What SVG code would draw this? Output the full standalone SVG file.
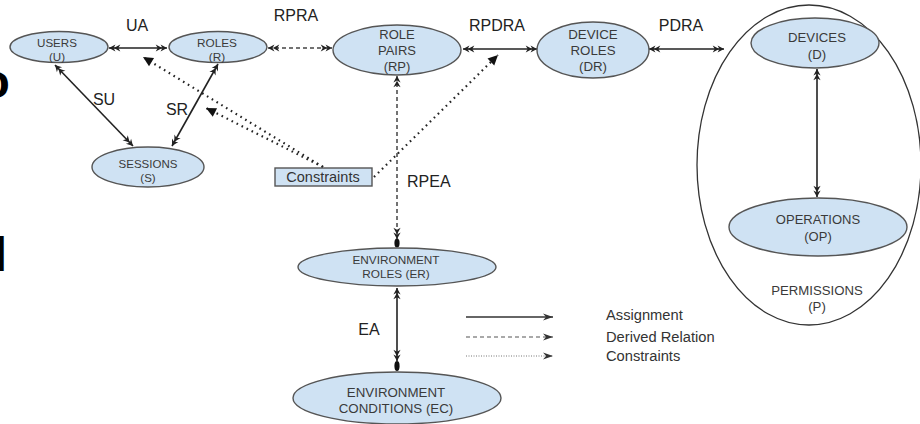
<svg xmlns="http://www.w3.org/2000/svg" width="920" height="424" viewBox="0 0 920 424">
<style>
text{font-family:"Liberation Sans",Arial,sans-serif;}
.node{fill:#cfe2f3;stroke:#555;stroke-width:1.4;}
.nt{fill:#3a3a3a;text-anchor:middle;}
.lbl{fill:#222;font-size:16px;}
.solid{stroke:#222;stroke-width:1.6;fill:none;}
.dash{stroke:#444;stroke-width:1.5;stroke-dasharray:4 3;fill:none;}
.dot{stroke:#222;stroke-width:2.2;stroke-dasharray:1.6 4;fill:none;}
.legt{fill:#333;font-size:14.7px;}
</style>
<defs>
<marker id="dbl" markerUnits="userSpaceOnUse" markerWidth="14" markerHeight="10" viewBox="-13 -5 14 10" refX="0" refY="0" orient="auto-start-reverse">
<path d="M0,0 L-6.5,-3.6 L-4.5,0 L-6.5,3.6 Z M-4.8,0 L-11.3,-3.6 L-9.3,0 L-11.3,3.6 Z" fill="#222"/>
</marker>
<marker id="tri" markerUnits="userSpaceOnUse" markerWidth="12" markerHeight="12" viewBox="-11 -6 12 12" refX="0" refY="0" orient="auto">
<path d="M0,0 L-10,-4.8 L-10,4.8 Z" fill="#111"/>
</marker>
<marker id="leg" markerUnits="userSpaceOnUse" markerWidth="12" markerHeight="10" viewBox="-11 -5 12 10" refX="0" refY="0" orient="auto">
<path d="M0,0 L-10,-3.5 L-7,0 L-10,3.5 Z" fill="#333"/>
</marker>
</defs>

<!-- cropped fragments at left edge -->
<text x="9.7" y="98" font-size="48" font-weight="bold" text-anchor="end" fill="#000">o</text>
<text x="7.2" y="271" font-size="48" font-weight="bold" text-anchor="end" fill="#000">l</text>

<g id="permissions">
<ellipse cx="809" cy="165" rx="112" ry="160" fill="#fff" stroke="#333" stroke-width="1.3"/>
<text class="nt" x="817" y="295" font-size="13.2">PERMISSIONS</text>
<text class="nt" x="817" y="311" font-size="13.2">(P)</text>
</g>

<g id="connectors">
<line class="solid" x1="109" y1="48" x2="167" y2="48" marker-start="url(#dbl)" marker-end="url(#dbl)"/>
<line class="dash" x1="268" y1="48" x2="332" y2="48" marker-start="url(#dbl)" marker-end="url(#dbl)"/>
<line class="solid" x1="463" y1="49" x2="537" y2="49" marker-start="url(#dbl)" marker-end="url(#dbl)"/>
<line class="solid" x1="649" y1="49" x2="724" y2="49" marker-start="url(#dbl)" marker-end="url(#dbl)"/>
<line class="solid" x1="55" y1="65" x2="133" y2="146" marker-start="url(#dbl)" marker-end="url(#dbl)"/>
<line class="solid" x1="218" y1="64" x2="172" y2="146" marker-start="url(#dbl)" marker-end="url(#dbl)"/>
<line class="solid" x1="817" y1="69" x2="817" y2="197" marker-start="url(#dbl)" marker-end="url(#dbl)"/>
<line class="dash" x1="397" y1="76" x2="397" y2="239" marker-start="url(#dbl)" marker-end="url(#dbl)"/>
<ellipse cx="397" cy="243" rx="2.6" ry="4.5" fill="#111"/>
<line class="solid" x1="397" y1="288" x2="397" y2="361" marker-start="url(#dbl)" marker-end="url(#dbl)"/>
<ellipse cx="397" cy="366" rx="2.6" ry="5" fill="#111"/>
<line class="dot" x1="323" y1="167" x2="143" y2="57" marker-end="url(#tri)"/>
<line class="dot" x1="323" y1="167" x2="206" y2="108" marker-end="url(#tri)"/>
<line class="dot" x1="374" y1="177" x2="498" y2="55" marker-end="url(#tri)"/>
<text class="lbl" x="137" y="31" text-anchor="middle">UA</text>
<text class="lbl" x="296" y="21" text-anchor="middle">RPRA</text>
<text class="lbl" x="497" y="31" text-anchor="middle">RPDRA</text>
<text class="lbl" x="681" y="31" text-anchor="middle">PDRA</text>
<text class="lbl" x="104" y="105" text-anchor="middle">SU</text>
<text class="lbl" x="177" y="115" text-anchor="middle">SR</text>
<text class="lbl" x="407" y="187">RPEA</text>
<text class="lbl" x="369" y="335" text-anchor="middle">EA</text>
</g>

<g id="users">
<ellipse class="node" cx="59" cy="47" rx="49" ry="15.5"/>
<text class="nt" x="57" y="47" font-size="11.6">USERS</text>
<text class="nt" x="57" y="61" font-size="11.6">(U)</text>
</g>
<g id="roles">
<ellipse class="node" cx="218" cy="47" rx="49" ry="15.5"/>
<text class="nt" x="217" y="47" font-size="11.8">ROLES</text>
<text class="nt" x="217" y="61" font-size="11.8">(R)</text>
</g>
<g id="sessions">
<ellipse class="node" cx="148" cy="167" rx="56" ry="20"/>
<text class="nt" x="148" y="168" font-size="11.5">SESSIONS</text>
<text class="nt" x="148" y="182" font-size="11.5">(S)</text>
</g>
<g id="role-pairs">
<ellipse class="node" cx="397" cy="50" rx="64" ry="25"/>
<text class="nt" x="397" y="39" font-size="13">ROLE</text>
<text class="nt" x="397" y="55" font-size="13">PAIRS</text>
<text class="nt" x="397" y="71" font-size="13">(RP)</text>
</g>
<g id="device-roles">
<ellipse class="node" cx="593" cy="50" rx="56" ry="28"/>
<text class="nt" x="593" y="39" font-size="13.3">DEVICE</text>
<text class="nt" x="593" y="55" font-size="13.3">ROLES</text>
<text class="nt" x="593" y="71" font-size="13.3">(DR)</text>
</g>
<g id="devices">
<ellipse class="node" cx="815" cy="43" rx="64" ry="25"/>
<text class="nt" x="817" y="42" font-size="13.2">DEVICES</text>
<text class="nt" x="817" y="59" font-size="13.2">(D)</text>
</g>
<g id="operations">
<ellipse class="node" cx="818" cy="227" rx="89" ry="29"/>
<text class="nt" x="818" y="224" font-size="13">OPERATIONS</text>
<text class="nt" x="818" y="241" font-size="13">(OP)</text>
</g>
<g id="constraints">
<rect x="275" y="168" width="97" height="18" fill="#cfe2f3" stroke="#555" stroke-width="1.4"/>
<text x="323" y="182" font-size="14.5" fill="#333" text-anchor="middle">Constraints</text>
</g>
<g id="environment-roles">
<ellipse class="node" cx="397" cy="267" rx="99" ry="19"/>
<text class="nt" x="396" y="264" font-size="11.8">ENVIRONMENT</text>
<text class="nt" x="396" y="278" font-size="11.8">ROLES (ER)</text>
</g>
<g id="environment-conditions">
<ellipse class="node" cx="397" cy="398" rx="104" ry="26"/>
<text class="nt" x="396" y="397" font-size="13.3">ENVIRONMENT</text>
<text class="nt" x="396" y="413" font-size="13.3">CONDITIONS (EC)</text>
</g>

<g id="legend">
<line x1="466" y1="317" x2="553" y2="317" stroke="#333" stroke-width="1.4" marker-end="url(#leg)"/>
<line x1="466" y1="337" x2="553" y2="337" stroke="#555" stroke-width="1.2" stroke-dasharray="4 3" marker-end="url(#leg)"/>
<line x1="466" y1="356" x2="553" y2="356" stroke="#777" stroke-width="1" stroke-dasharray="1 1.5" marker-end="url(#leg)"/>
<text class="legt" x="606" y="320">Assignment</text>
<text class="legt" x="606" y="342">Derived Relation</text>
<text class="legt" x="606" y="361">Constraints</text>
</g>
</svg>
